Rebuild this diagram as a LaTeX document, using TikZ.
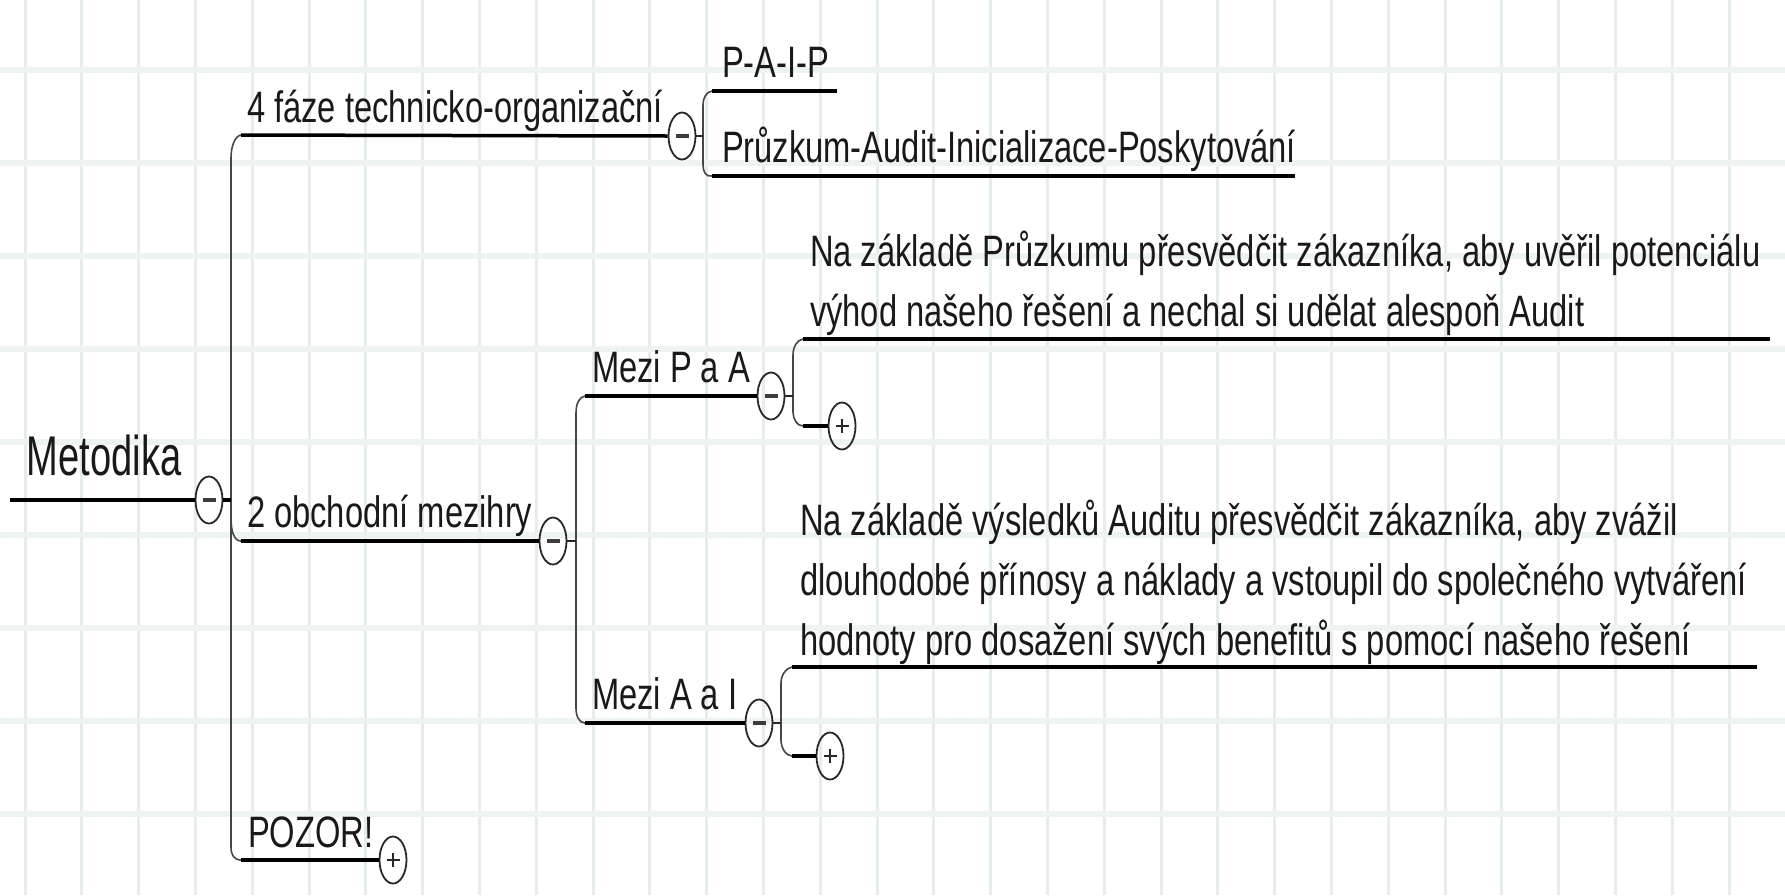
\documentclass[tikz,border=0pt]{standalone}
\usepackage{fontspec}
\usetikzlibrary{shapes.geometric}
\newfontfamily\labfont[FakeStretch=0.743]{Liberation Sans}
\newfontfamily\metfont[FakeStretch=0.68]{Liberation Sans}
\definecolor{gridv}{RGB}{228,236,236}
\definecolor{gridh}{RGB}{237,242,242}
\definecolor{txt}{RGB}{25,25,25}
\definecolor{trunkc}{RGB}{70,70,70}
\definecolor{circc}{RGB}{40,40,40}
\definecolor{signc}{RGB}{60,60,60}
\tikzset{
  gridvline/.style={draw=gridv, line width=3pt},
  gridhline/.style={draw=gridh, line width=6.5pt},
  topic/.style={anchor=base west, inner sep=0pt, outer sep=0pt, text=txt, font=\labfont\fontsize{44pt}{60pt}\selectfont},
  roottopic/.style={topic, font=\metfont\fontsize{56pt}{60pt}\selectfont},
  uline/.style={draw=black, line width=3.5pt},
  stub/.style={draw=black!85, line width=2.5pt},
  branch/.style={draw=trunkc, line width=1.6pt},
  toggle/.style={ellipse, draw=circc, line width=1.8pt, minimum width=27pt, minimum height=47pt, inner sep=0pt},
  minustoggle/.style={toggle, path picture={\draw[signc, line width=4pt] ([xshift=-6.5pt]path picture bounding box.center) -- ([xshift=6.5pt]path picture bounding box.center);}},
  plustoggle/.style={toggle, path picture={\draw[circc, line width=2.8pt] ([xshift=-6.5pt]path picture bounding box.center) -- ([xshift=6.5pt]path picture bounding box.center) ([yshift=-7pt]path picture bounding box.center) -- ([yshift=7pt]path picture bounding box.center);}}
}
\begin{document}
\begin{tikzpicture}[x=1pt,y=-1pt]
\useasboundingbox[fill=white] (0,0) rectangle (1785,895);
% grid
\foreach \k in {0,...,30}{\draw[gridvline] ({25+56.8*\k},0) -- ({25+56.8*\k},895);}
\foreach \k in {0,...,8}{\draw[gridhline] (0,{70+93*\k}) -- (1785,{70+93*\k});}

% toggles
\node[minustoggle] (c0) at (209,500) {};
\node[minustoggle] (c1) at (682,136) {};
\node[minustoggle] (c2) at (553,541) {};
\node[minustoggle] (c3) at (771,396) {};
\node[minustoggle] (c4) at (759,723) {};
\node[plustoggle] (p1) at (842,426) {};
\node[plustoggle] (p2) at (830,756) {};
\node[plustoggle] (p3) at (393,860) {};

% texts
\node[roottopic] (root) at (27,475) {Metodika};
\node[topic] (faze) at (247,122) {4 fáze technicko-organizační};
\node[topic] (paip) at (722,77) {P-A-I-P};
\node[topic] (pruzkum) at (722,162) {Průzkum-Audit-Inicializace-Poskytování};
\node[topic] (obch) at (247,527) {2 obchodní mezihry};
\node[topic] (mpa) at (592,382) {Mezi P a A};
\node[topic] (long1) at (810,326) {\begin{tabular}[b]{@{}l@{}}Na základě Průzkumu přesvědčit zákazníka, aby uvěřil potenciálu\\ výhod našeho řešení a nechal si udělat alespoň Audit\end{tabular}};
\node[topic] (mai) at (592,709) {Mezi A a I};
\node[topic] (long2) at (800,655) {\begin{tabular}[b]{@{}l@{}}Na základě výsledků Auditu přesvědčit zákazníka, aby zvážil\\ dlouhodobé přínosy a náklady a vstoupil do společného vytváření\\ hodnoty pro dosažení svých benefitů s pomocí našeho řešení\end{tabular}};
\node[topic] (pozor) at (248,847) {POZOR!};

% coordinates
\coordinate (rootL) at (10,500);
\coordinate (tr) at (231,500);
\coordinate (fazeL) at (241,135);
\coordinate (obchL) at (241,541);
\coordinate (pozorL) at (241,860);
\coordinate (s1) at (703,136);
\coordinate (paipL) at (712,91);
\coordinate (paipR) at (837,91);
\coordinate (pruzL) at (712,176);
\coordinate (pruzR) at (1295,176);
\coordinate (s2) at (576,541);
\coordinate (mpaL) at (585,396);
\coordinate (maiL) at (585,723);
\coordinate (s3) at (793,396);
\coordinate (l1L) at (803,339);
\coordinate (l1R) at (1770,339);
\coordinate (p1L) at (803,426);
\coordinate (s4) at (781,723);
\coordinate (l2L) at (792,667);
\coordinate (l2R) at (1757,667);
\coordinate (p2L) at (792,756);

% trunks
\draw[branch] (fazeL) .. controls (235,136) and (231,146) .. (231,158) -- (231,847) .. controls (231,855) and (234,860) .. (pozorL);
\draw[branch] (231,518) .. controls (231,531) and (234,541) .. (obchL);
\draw[branch] (paipL) .. controls (706,92) and (703,98) .. (703,105) -- (703,165) .. controls (703,172) and (706,177) .. (pruzL);
\draw[branch] (mpaL) .. controls (579,397) and (576,404) .. (576,413) -- (576,708) .. controls (576,716) and (579,723) .. (maiL);
\draw[branch] (l1L) .. controls (797,340) and (793,347) .. (793,355) -- (793,412) .. controls (793,419) and (797,426) .. (p1L);
\draw[branch] (l2L) .. controls (786,668) and (781,675) .. (781,683) -- (781,740) .. controls (781,748) and (786,756) .. (p2L);

% stubs
\draw[uline] (c0.east) -- (tr);
\draw[stub] (c1.east) -- (s1);
\draw[stub] (c2.east) -- (s2);
\draw[stub] (c3.east) -- (s3);
\draw[stub] (c4.east) -- (s4);

% underlines
\draw[uline] (rootL) -- (c0.west);
\draw[uline] (fazeL) -- (c1.west);
\draw[uline] (paipL) -- (paipR);
\draw[uline] (pruzL) -- (pruzR);
\draw[uline] (obchL) -- (c2.west);
\draw[uline] (mpaL) -- (c3.west);
\draw[uline] (l1L) -- (l1R);
\draw[uline] (p1L) -- (p1.west);
\draw[uline] (maiL) -- (c4.west);
\draw[uline] (l2L) -- (l2R);
\draw[uline] (p2L) -- (p2.west);
\draw[uline] (pozorL) -- (p3.west);
\end{tikzpicture}
\end{document}
